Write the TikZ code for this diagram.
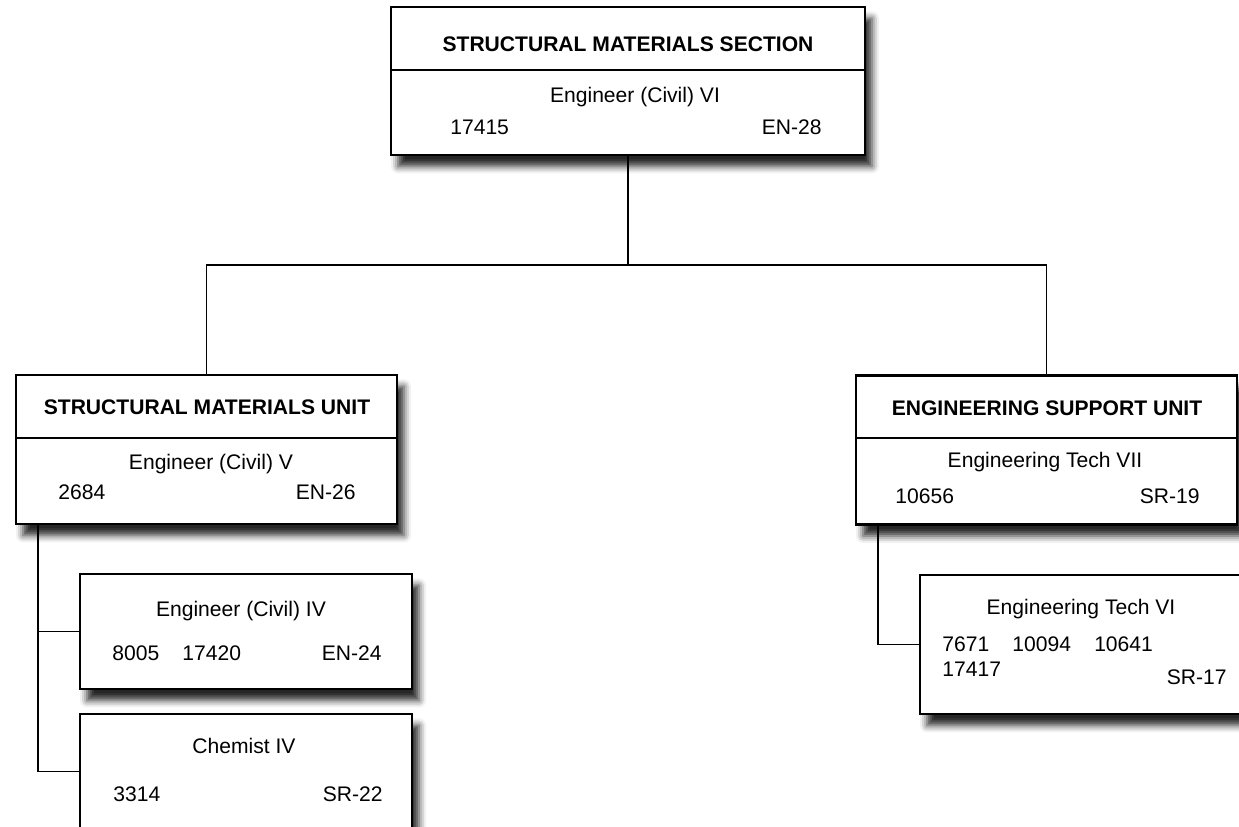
\documentclass[tikz,border=0pt]{standalone}
\usepackage{fontspec}
\setmainfont{Liberation Sans}
\usetikzlibrary{shadows.blur}
\begin{document}
\begin{tikzpicture}[x=0.02cm,y=-0.02cm,
    every node/.style={font=\fontsize{12}{14}\selectfont, inner sep=0},
    orgbox/.style={draw, line width=1.2pt, fill=white, rectangle,
      blur shadow={shadow xshift=4pt, shadow yshift=-6.5pt, shadow blur radius=4pt, shadow opacity=85}},
    title/.style={font=\fontsize{12}{14}\selectfont\bfseries, anchor=base},
    link/.style={line width=0.9pt}]
  \useasboundingbox (0,0) rectangle (1239,827);
  \clip (0,0) rectangle (1239,827);
  % boxes
  \node[orgbox, minimum width=9.48cm, minimum height=2.96cm] (sec) at (628,81) {};
  \node[orgbox, minimum width=7.62cm, minimum height=2.98cm] (smu) at (206.5,449.5) {};
  \node[orgbox, minimum width=7.62cm, minimum height=2.98cm] (esu) at (1046.5,450) {};
  \node[orgbox, minimum width=6.64cm, minimum height=2.3cm] (eng4) at (246,631.5) {};
  \node[orgbox, minimum width=6.64cm, minimum height=2.3cm] (chem) at (246,771.5) {};
  \node[orgbox, minimum width=6.8cm, minimum height=2.78cm] (tech6) at (1090,644.5) {};
  % header dividers
  \draw[line width=1.2pt] (sec.west |- 0,70) -- (sec.east |- 0,70);
  \draw[line width=1.2pt] (smu.west |- 0,438) -- (smu.east |- 0,438);
  \draw[line width=1.2pt] (esu.west |- 0,438) -- (esu.east |- 0,438);
  % texts
  \node[title] (sect) at (628,52) {STRUCTURAL MATERIALS SECTION};
  \node[anchor=base] (secp) at (635,103) {Engineer (Civil) VI};
  \node[anchor=base west] (secn) at (450,135) {17415};
  \node[anchor=base east] (secg) at (822,135) {EN-28};

  \node[title] (smut) at (207,414) {STRUCTURAL MATERIALS UNIT};
  \node[anchor=base] (smup) at (211,469) {Engineer (Civil) V};
  \node[anchor=base west] (smun) at (58,499) {2684};
  \node[anchor=base east] (smug) at (356,499) {EN-26};

  \node[title] (esut) at (1047,415) {ENGINEERING SUPPORT UNIT};
  \node[anchor=base] (esup) at (1045,467) {Engineering Tech VII};
  \node[anchor=base west] (esun) at (895,503) {10656};
  \node[anchor=base east] (esug) at (1200,503) {SR-19};

  \node[anchor=base] (eng4p) at (241,616) {Engineer (Civil) IV};
  \node[anchor=base west] (eng4n) at (112,660) {8005\hspace{1.1em}17420};
  \node[anchor=base east] (eng4g) at (382,660) {EN-24};

  \node[anchor=base] (chemp) at (244,753) {Chemist IV};
  \node[anchor=base west] (chemn) at (113,801) {3314};
  \node[anchor=base east] (chemg) at (383,801) {SR-22};

  \node[anchor=base] (tech6p) at (1081,614) {Engineering Tech VI};
  \node[anchor=base west] (tech6n) at (942,651) {7671\hspace{1.1em}10094\hspace{1.1em}10641};
  \node[anchor=base west] (tech6m) at (942,676) {17417};
  \node[anchor=base east] (tech6g) at (1227,684) {SR-17};
  % connectors
  \coordinate (bus) at (628,265);
  \coordinate (smuleg) at (38,524);
  \coordinate (esuleg) at (878,525);
  \draw[link] (sec.south) -- (bus);
  \draw[link] (smu.north) |- (bus);
  \draw[link] (esu.north) |- (bus);
  \draw[link] (chem.west) -| (smuleg);
  \draw[link] (eng4.west) -- (eng4.west -| smuleg);
  \draw[link] (tech6.west) -| (esuleg);
\end{tikzpicture}
\end{document}
